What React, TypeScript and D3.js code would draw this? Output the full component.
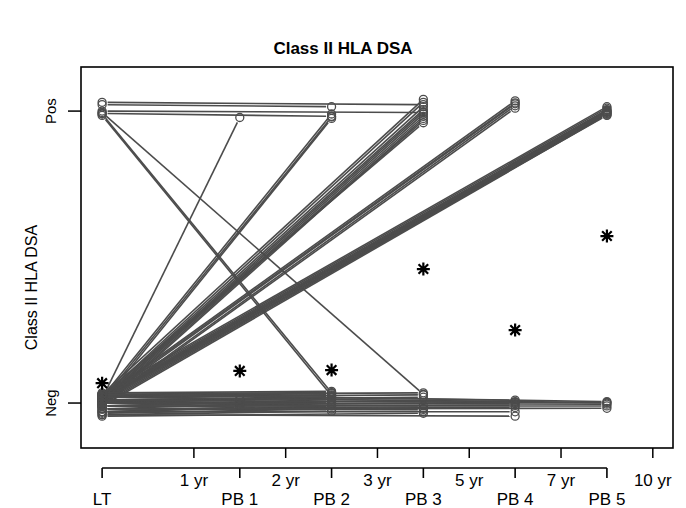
import React from 'react';
import * as d3 from 'd3';

// visits on the lower axis, placed in "time steps" (LT = 0, 1 yr = 1, ...)
const visits = ['LT', 'PB 1', 'PB 2', 'PB 3', 'PB 4', 'PB 5'];
const visitStep = [0, 1.5, 2.5, 3.5, 4.5, 5.5];
const yearLabels = ['1 yr', '2 yr', '3 yr', '5 yr', '7 yr', '10 yr'];
const yearStep = [1, 2, 3, 4, 5, 6];
const statusLabels = ['Neg', 'Pos'];

// each patient: [visit index of follow-up, jittered value at LT, jittered value at follow-up]
const ltPositive: [number, number, number][] = [
  [3, 1.030, 1.022], [3, 1.000, 0.995], [2, 1.022, 1.015], [2, 0.992, 0.982],
  [2, 0.990, 0.035], [2, 0.985, 0.025], [3, 0.995, 0.030],
];
const negToPos: [number, number, number][] = [
  [1, 0.015, 0.978],
  [2, 0.020, 0.990], [2, 0.010, 0.980], [2, 0.000, 0.975],
  [3, 0.030, 1.040], [3, 0.020, 1.030], [3, 0.015, 1.015], [3, 0.010, 1.005], [3, 0.005, 0.998],
  [3, 0.000, 0.990], [3, -0.005, 0.982], [3, -0.010, 0.975], [3, 0.012, 0.968], [3, 0.025, 0.960],
  [4, 0.020, 1.035], [4, 0.010, 1.025], [4, 0.000, 1.018], [4, -0.005, 1.010], [4, 0.015, 1.028],
  [5, 0.030, 1.015], [5, 0.025, 1.010], [5, 0.020, 1.005], [5, 0.015, 1.002], [5, 0.010, 0.998],
  [5, 0.005, 0.995], [5, 0.000, 0.992], [5, -0.005, 0.990], [5, -0.010, 0.987], [5, 0.012, 1.000],
  [5, 0.018, 0.996], [5, 0.008, 0.985],
];
const negToNeg: [number, number, number][] = [
  [1, 0.030, 0.010], [1, 0.010, -0.005], [1, -0.010, 0.000], [1, -0.030, -0.015], [1, 0.000, 0.015],
  [2, 0.035, 0.040], [2, 0.030, 0.036], [2, 0.025, 0.032], [2, 0.020, 0.028], [2, 0.010, 0.022],
  [2, 0.000, 0.018], [2, -0.010, 0.012], [2, -0.020, 0.005], [2, -0.030, -0.010], [2, -0.035, -0.020],
  [2, -0.040, -0.028], [2, 0.005, 0.000],
  [3, 0.030, 0.035], [3, 0.020, 0.028], [3, 0.010, 0.020], [3, 0.000, -0.010], [3, -0.010, -0.018],
  [3, -0.020, -0.022], [3, -0.030, -0.028], [3, -0.045, -0.035],
  [4, 0.020, 0.005], [4, 0.010, 0.002], [4, 0.000, -0.002], [4, -0.010, -0.008], [4, -0.020, -0.015],
  [4, -0.030, -0.030], [4, -0.040, -0.045], [4, 0.030, 0.010],
  [5, 0.020, 0.002], [5, 0.010, 0.000], [5, 0.000, -0.004], [5, -0.010, -0.010], [5, -0.020, -0.018],
  [5, 0.030, 0.005],
];

// proportion positive at each visit (asterisks)
const propPositive = [0.068, 0.110, 0.113, 0.459, 0.250, 0.572];

const W = 686;
const H = 508;
const box = { left: 81, right: 673, top: 67, bottom: 448 };

export default function App() {
  const x = d3.scaleLinear().domain([-0.23, 6.22]).range([box.left, box.right]);
  const y = d3.scaleLinear().domain([-0.154, 1.151]).range([box.bottom, box.top]);

  const patients = [...ltPositive, ...negToPos, ...negToNeg];
  const gap = 5.5;
  const lineColor = '#4c4c4c';
  const font = 'Liberation Sans, Arial, sans-serif';

  const segs = patients.map(([v, a, b]) => {
    const x1 = x(visitStep[0]), y1 = y(a);
    const x2 = x(visitStep[v]), y2 = y(b);
    const len = Math.hypot(x2 - x1, y2 - y1);
    const ux = (x2 - x1) / len, uy = (y2 - y1) / len;
    return { x1, y1, x2, y2, sx1: x1 + ux * gap, sy1: y1 + uy * gap, sx2: x2 - ux * gap, sy2: y2 - uy * gap };
  });

  const star = (cx: number, cy: number) => {
    const p = d3.path();
    const r = 6.5, d = 4.8;
    p.moveTo(cx - r, cy); p.lineTo(cx + r, cy);
    p.moveTo(cx, cy - r); p.lineTo(cx, cy + r);
    p.moveTo(cx - d, cy - d); p.lineTo(cx + d, cy + d);
    p.moveTo(cx - d, cy + d); p.lineTo(cx + d, cy - d);
    return p.toString();
  };

  return (
    <svg width={W} height={H} style={{ position: 'absolute', left: 0, top: 0, background: '#fff' }}>
      <text x={343} y={54} textAnchor="middle" fontFamily={font} fontWeight="bold" fontSize={17}>
        Class II HLA DSA
      </text>

      {/* patient lines */}
      {segs.map((s, i) => (
        <line key={'l' + i} x1={s.sx1} y1={s.sy1} x2={s.sx2} y2={s.sy2}
          stroke={lineColor} strokeWidth={1.6} />
      ))}
      {segs.map((s, i) => (
        <g key={'c' + i} fill="none" stroke={lineColor} strokeWidth={1.3}>
          <circle cx={s.x1} cy={s.y1} r={4} />
          <circle cx={s.x2} cy={s.y2} r={4} />
        </g>
      ))}

      {propPositive.map((p, i) => (
        <path key={'s' + i} d={star(x(visitStep[i]), y(p))} stroke="#000" strokeWidth={2.2} fill="none" />
      ))}

      <rect x={box.left} y={box.top} width={box.right - box.left} height={box.bottom - box.top}
        fill="none" stroke="#000" strokeWidth={1.6} />

      {/* y axis */}
      {statusLabels.map((t, i) => (
        <g key={t}>
          <line x1={box.left - 13} x2={box.left} y1={y(i)} y2={y(i)} stroke="#000" strokeWidth={1.5} />
          <text transform={`translate(56,${y(i)}) rotate(-90)`} textAnchor="middle"
            fontFamily={font} fontSize={15}>{t}</text>
        </g>
      ))}
      <text transform={`translate(37,${(box.top + box.bottom) / 2 + 30}) rotate(-90)`} textAnchor="middle"
        fontFamily={font} fontSize={16}>Class II HLA DSA</text>

      {/* year ticks */}
      {yearLabels.map((t, i) => (
        <g key={t}>
          <line x1={x(yearStep[i])} x2={x(yearStep[i])} y1={box.bottom} y2={box.bottom + 10}
            stroke="#000" strokeWidth={1.5} />
          <text x={x(yearStep[i])} y={486} textAnchor="middle" fontFamily={font} fontSize={17}>{t}</text>
        </g>
      ))}

      {/* visit axis */}
      <line x1={x(visitStep[0])} x2={x(visitStep[visitStep.length - 1])} y1={468} y2={468}
        stroke="#000" strokeWidth={1.6} />
      {visits.map((t, i) => (
        <g key={t}>
          <line x1={x(visitStep[i])} x2={x(visitStep[i])} y1={468} y2={478} stroke="#000" strokeWidth={1.6} />
          <text x={x(visitStep[i])} y={505} textAnchor="middle" fontFamily={font} fontSize={17}>{t}</text>
        </g>
      ))}
    </svg>
  );
}
